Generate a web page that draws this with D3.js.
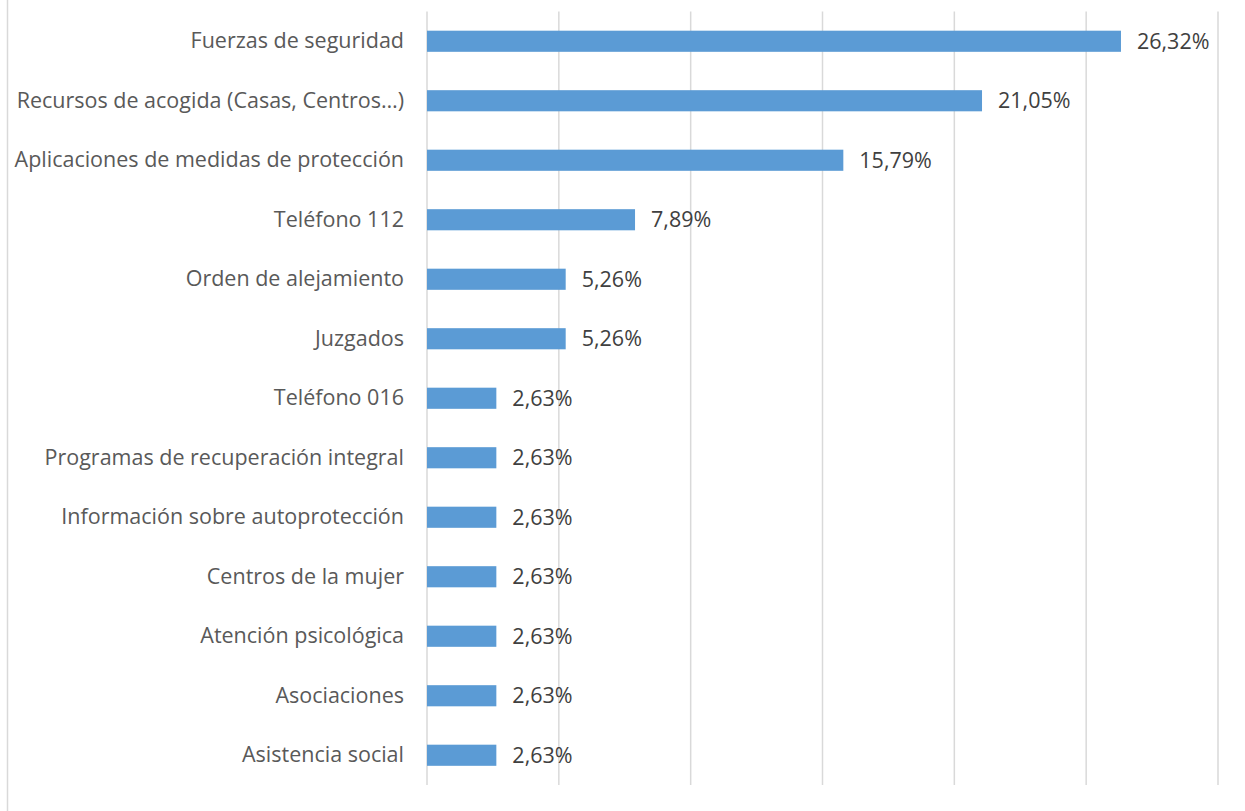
<!DOCTYPE html>
<html>
<head>
<meta charset="utf-8">
<script src="https://cdn.jsdelivr.net/npm/d3@7"></script>
<style>
  body { margin: 0; background: #fff; }
  svg { display: block; }
</style>
</head>
<body>
<div id="chart"></div>
<script>
// categories, top to bottom
const categories = [
  "Fuerzas de seguridad",
  "Recursos de acogida (Casas, Centros…)",
  "Aplicaciones de medidas de protección",
  "Teléfono 112",
  "Orden de alejamiento",
  "Juzgados",
  "Teléfono 016",
  "Programas de recuperación integral",
  "Información sobre autoprotección",
  "Centros de la mujer",
  "Atención psicológica",
  "Asociaciones",
  "Asistencia social"
];
const values = [26.32, 21.05, 15.79, 7.89, 5.26, 5.26, 2.63, 2.63, 2.63, 2.63, 2.63, 2.63, 2.63];
const gridTicks = [0, 5, 10, 15, 20, 25, 30];

const WIDTH = 1245, HEIGHT = 811;
const MARGINS = {top: 11.5, bottom: 26, left: 427, right: 27};
const FONT = '"Open Sans", "Noto Sans", sans-serif';

const svg = d3.select('#chart').append('svg')
    .attr('width', WIDTH)
    .attr('height', HEIGHT);

// chart frame: only the left edge shows in the picture
svg.append('line')
    .attr('x1', 7.5).attr('x2', 7.5)
    .attr('y1', 0).attr('y2', HEIGHT)
    .attr('stroke', '#d9d9d9')
    .attr('stroke-width', 1.5);

let xScale = d3.scaleLinear().domain([0, 30]).range([MARGINS.left, WIDTH - MARGINS.right]);
let yScale = d3.scaleBand().domain(categories)
    .range([MARGINS.top, HEIGHT - MARGINS.bottom])
    .paddingInner(0.645).paddingOuter(0.3225);

// vertical gridlines
svg.append('g').attr('id', 'grid')
    .selectAll('line')
    .data(gridTicks)
    .enter()
    .append('line')
    .attr('x1', d => xScale(d)).attr('x2', d => xScale(d))
    .attr('y1', MARGINS.top).attr('y2', HEIGHT - MARGINS.bottom)
    .attr('stroke', '#d9d9d9')
    .attr('stroke-width', 1.5);

// bars
svg.append('g').attr('id', 'bars')
    .selectAll('rect')
    .data(values)
    .enter()
    .append('rect')
    .attr('x', xScale(0))
    .attr('y', (d, i) => yScale(categories[i]))
    .attr('width', d => xScale(d) - xScale(0))
    .attr('height', yScale.bandwidth())
    .attr('fill', '#5b9bd5');

// y axis labels
let yAxis = svg.append('g')
    .attr('transform', `translate(${MARGINS.left - 23}, 0)`)
    .call(d3.axisLeft(yScale).tickSize(0).tickPadding(0));
yAxis.select('.domain').remove();
yAxis.selectAll('text')
    .style('font-family', FONT)
    .style('font-size', '21.5px')
    .attr('fill', '#595959');

// value labels
svg.append('g').attr('id', 'value-labels')
    .selectAll('text')
    .data(values)
    .enter()
    .append('text')
    .attr('x', d => xScale(d) + 16)
    .attr('y', (d, i) => yScale(categories[i]) + yScale.bandwidth() / 2)
    .attr('dy', '0.35em')
    .style('font-family', FONT)
    .style('font-size', '21.5px')
    .attr('fill', '#404040')
    .text(d => d.toFixed(2).replace('.', ',') + '%');
</script>
</body>
</html>
